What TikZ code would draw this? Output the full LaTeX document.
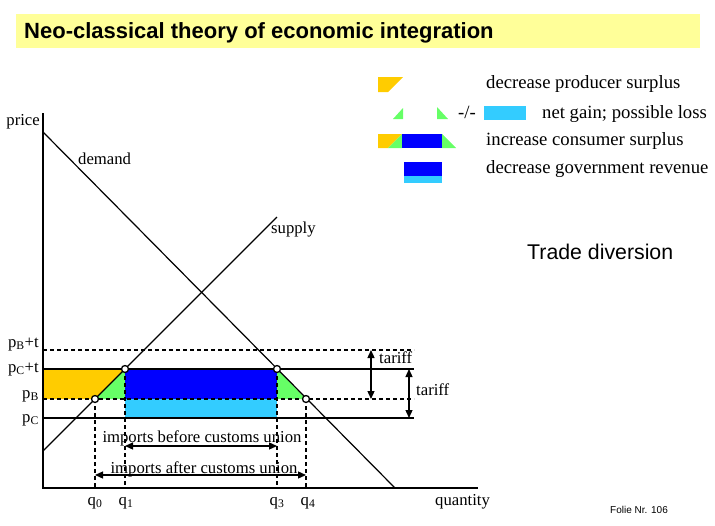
\documentclass[tikz,border=0pt]{standalone}
\usepackage{fontspec}
\setmainfont{Liberation Serif}
\setsansfont{Liberation Sans}
\usetikzlibrary{arrows.meta}
\definecolor{titleyellow}{HTML}{FFFF99}
\definecolor{psorange}{HTML}{FFCC00}
\definecolor{gaingreen}{HTML}{66FF66}
\definecolor{revblue}{HTML}{0000FF}
\definecolor{lossblue}{HTML}{33CCFF}
\begin{document}
\begin{tikzpicture}[x=1pt,y=-1pt,
  lbl/.style={font=\fontsize{16.7}{19}\selectfont,inner sep=0pt},
  leg/.style={font=\fontsize{18.7}{22}\selectfont,inner sep=0pt,anchor=base west},
  dline/.style={dash pattern=on 4pt off 3pt,line width=1.6pt},
  sline/.style={line width=1.8pt},
  ptc/.style={circle,draw,line width=1.3pt,fill=white,minimum size=7pt,inner sep=0pt},
  tarrow/.style={{Triangle[length=8pt,width=7pt]}-{Triangle[length=8pt,width=7pt]},line width=1.3pt}]
\pgfmathsetmacro{\pBt}{350}
\pgfmathsetmacro{\pCt}{369}
\pgfmathsetmacro{\pB}{399}
\pgfmathsetmacro{\pC}{418}
\pgfmathsetmacro{\xend}{414}
\useasboundingbox (0,0) rectangle (715,525);
%title
\fill[titleyellow] (16,14) rectangle (700,48);
\node[font=\sffamily\bfseries\fontsize{22}{24}\selectfont,anchor=base west,inner sep=0pt] (title) at (24,38) {Neo-classical theory of economic integration};
%
\coordinate (O) at (43,488);
\coordinate (A) at (95,\pB);
\coordinate (B) at (125,\pCt);
\coordinate (C) at (277,\pCt);
\coordinate (D) at (306,\pB);
%areas
\fill[psorange] (43,\pCt) -- (B) -- (A) -- (43,\pB) -- cycle;
\fill[gaingreen] (A) -- (B) -- (B |- A) -- cycle;
\fill[gaingreen] (C) -- (D) -- (C |- D) -- cycle;
\fill[revblue] (B) rectangle (C |- A);
\fill[lossblue] (B |- A) rectangle (277,\pC);
%price lines
\draw[dline] (43,\pBt) -- (\xend,\pBt);
\draw[sline] (43,\pCt) -- (\xend,\pCt);
\draw[dline] (43,\pB) -- (\xend,\pB);
\draw[sline] (43,\pC) -- (\xend,\pC);
%axes
\draw[line width=1.5pt] (43,113) -- (O) -- (478,488);
%demand and supply
\draw[line width=1.2pt] (43,132) -- (395,488);
\draw[line width=1.2pt] (43,451) -- (277,217);
%dashed
\draw[dline] (A) -- (A |- O);
\draw[dline] (B) -- (B |- O);
\draw[dline] (C) -- (C |- O);
\draw[dline] (D) -- (D |- O);
\node[ptc] (nA) at (A) {};
\node[ptc] (nB) at (B) {};
\node[ptc] (nC) at (C) {};
\node[ptc] (nD) at (D) {};
%tariff
\coordinate (tA1) at (371,\pBt);
\coordinate (tA2) at (371,\pB);
\coordinate (tB1) at (409,\pCt);
\coordinate (tB2) at (409,\pC);
\draw[tarrow] (tA1) -- (tA2);
\draw[tarrow] (tB1) -- (tB2);
\node[lbl,anchor=base west] (tarA) at (379,363) {tariff};
\node[lbl,anchor=base west] (tarB) at (416,395) {tariff};
%imports
\coordinate (iB1) at (125,446);
\coordinate (iB2) at (277,446);
\coordinate (iA1) at (95,475);
\coordinate (iA2) at (306,475);
\draw[tarrow] (iB1) -- (iB2);
\draw[tarrow] (iA1) -- (iA2);
\node[lbl,anchor=base] (impB) at (202,442) {imports before customs union};
\node[lbl,anchor=base] (impA) at (204,473) {imports after customs union};
%labels
\node[lbl,anchor=base east] (price) at (40,125) {price};
\node[lbl,anchor=base west] (quant) at (435,505) {quantity};
\node[lbl,anchor=base west] (dem) at (78,164) {demand};
\node[lbl,anchor=base west] (sup) at (271,233) {supply};
\node[lbl,anchor=base east] (lpBt) at (39,347) {p\textsubscript{B}+t};
\node[lbl,anchor=base east] (lpCt) at (39,372) {p\textsubscript{C}+t};
\node[lbl,anchor=base east] (lpB) at (39,398) {p\textsubscript{B}};
\node[lbl,anchor=base east] (lpC) at (39,422) {p\textsubscript{C}};
\node[lbl,anchor=base] (lq0) at (95,505) {q\textsubscript{0}};
\node[lbl,anchor=base] (lq1) at (126,505) {q\textsubscript{1}};
\node[lbl,anchor=base] (lq3) at (277,505) {q\textsubscript{3}};
\node[lbl,anchor=base] (lq4) at (308,505) {q\textsubscript{4}};
%legend
\fill[psorange] (378,77) -- (403,77) -- (388,92) -- (378,92) -- cycle;
\fill[gaingreen] (393,119) -- (403,108) -- (403,119) -- cycle;
\fill[gaingreen] (437,107) -- (437,119) -- (448,119) -- cycle;
\fill[lossblue] (484,106) rectangle (526,120);
\fill[psorange] (378,134) -- (402,134) -- (388,148) -- (378,148) -- cycle;
\fill[gaingreen] (388,148) -- (402,134) -- (402,148) -- cycle;
\fill[revblue] (402,134) rectangle (442,148);
\fill[gaingreen] (442,134) -- (442,148) -- (456,148) -- cycle;
\fill[revblue] (404,162) rectangle (442,176);
\fill[lossblue] (404,176) rectangle (442,183);
\node[leg] (legPS) at (486,88) {decrease producer surplus};
\node[leg] (legNL) at (458,118) {-/-};
\node[leg] (legNG) at (542,118) {net gain; possible loss};
\node[leg] (legCS) at (486,145) {increase consumer surplus};
\node[leg] (legGR) at (486,173) {decrease government revenue};
%
\node[font=\sffamily\fontsize{21.3}{24}\selectfont,anchor=base west,inner sep=0pt] (td) at (527,259) {Trade diversion};
\node[font=\sffamily\fontsize{10}{12}\selectfont,anchor=base west,inner sep=0pt] (folie) at (610,513) {Folie Nr. 106};
\end{tikzpicture}
\end{document}
